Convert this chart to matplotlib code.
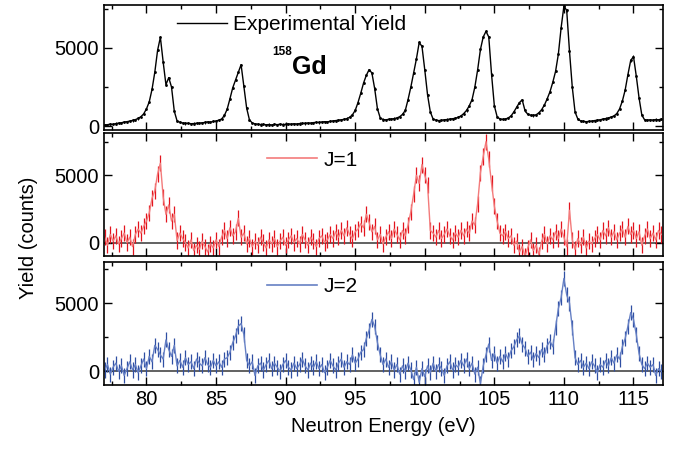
import numpy as np
import matplotlib
matplotlib.use("Agg")
import matplotlib.pyplot as plt
from matplotlib.lines import Line2D
from matplotlib.ticker import MultipleLocator

plt.rcParams['font.family'] = ['Liberation Sans', 'DejaVu Sans']

# neutron energy grid (eV), 0.2 eV channels
energy = np.arange(77.0, 117.0 + 0.1, 0.2)

# measured capture yield (counts)
exp_yield = [
    60, 90, 120, 110, 160, 190, 210, 260, 280, 320,            # 77.0
    360, 410, 490, 600, 780, 1100, 1550, 2350, 3450, 4850,     # 79.0
    5680, 4100, 2650, 3100, 2500, 950, 330, 240, 200, 170,     # 81.0
    180, 150, 160, 180, 190, 210, 230, 270, 250, 300,          # 83.0
    320, 380, 450, 680, 1080, 1750, 2450, 2950, 3450, 3930,    # 85.0
    2550, 1150, 400, 200, 140, 120, 100, 110, 80, 100,         # 87.0
    70, 110, 90, 120, 100, 110, 140, 120, 150, 130,            # 89.0
    160, 180, 170, 200, 190, 220, 240, 230, 260, 280,          # 91.0
    270, 300, 330, 350, 380, 400, 430, 480, 560, 720,          # 93.0
    1000, 1500, 2100, 2750, 3250, 3610, 3400, 2400, 1100, 520, # 95.0
    420, 400, 430, 450, 480, 520, 600, 750, 1000, 1700,        # 97.0
    2500, 3400, 4300, 5350, 5100, 3600, 2000, 900, 450, 380,   # 99.0
    350, 370, 400, 420, 450, 470, 500, 560, 650, 800,          # 101.0
    1000, 1300, 1700, 2500, 3600, 4900, 5700, 6060, 5700, 3300,  # 103.0
    1300, 600, 450, 430, 450, 520, 650, 900, 1200, 1500,       # 105.0
    1680, 1000, 750, 700, 680, 720, 850, 1050, 1350, 1750,     # 107.0
    2200, 2800, 3500, 4600, 6300, 7680, 7400, 4800, 2500, 900, # 109.0
    450, 330, 300, 280, 300, 320, 350, 380, 400, 450,          # 111.0
    480, 520, 580, 650, 800, 1100, 1600, 2300, 3300, 4200,     # 113.0
    4450, 3200, 1800, 700, 400, 380, 400, 380, 420, 400,       # 115.0
    450,                                                       # 117.0
]

# J=1 component (counts)
j1_yield = [
    400, -200, 600, 100, 500, -100, 300, 700, 0, 400,          # 77.0
    -300, 600, 1000, 700, 1200, 1600, 2200, 3300, 3850, 5100,  # 79.0
    5900, 3400, 2100, 2800, 1600, 2100, 150, 700, 300, 0,      # 81.0
    -400, 200, -600, -200, -500, 100, -300, -700, -100, -400,  # 83.0
    200, -300, 400, 900, 300, 1100, 500, 800, 1800, 400,       # 85.0
    700, -100, 300, -300, 100, -200, 400, 0, -400, 200,        # 87.0
    -100, 300, -300, 100, 400, -200, 200, 500, 0, 300,         # 89.0
    -100, 600, 200, -200, 400, 100, -300, 300, 500, 0,         # 91.0
    200, 600, 300, 800, 400, 900, 500, 1100, 600, 300,         # 93.0
    800, 1000, 1400, 1100, 2100, 1500, 800, 1200, 200, 600,    # 95.0
    -100, 400, 800, 300, 1000, 600, 200, 900, 500, 1300,       # 97.0
    2300, 3600, 5000, 4400, 5800, 5000, 4300, 900, 700, 400,   # 99.0
    900, 300, 600, 1000, 500, 200, 700, 400, 900, 500,         # 101.0
    1000, 700, 1600, 1300, 2900, 5200, 6400, 7500, 6200, 4400, # 103.0
    2700, 1600, 700, 500, 800, 300, 500, -200, 100, -700,      # 105.0
    -300, -1000, -400, 200, -600, -200, -900, 100, 600, -100,  # 107.0
    500, 200, 800, 300, 1000, 400, -300, 2400, 200, -500,      # 109.0
    300, -200, 400, -400, 100, -100, 300, 600, 200, 900,       # 111.0
    500, 1100, 400, 800, 200, 700, 1000, 400, 1200, 600,       # 113.0
    900, 300, 800, -200, 500, 1000, 300, 700, 200, 900,        # 115.0
    600,                                                       # 117.0
]

# J=2 component (counts)
j2_yield = [
    100, 500, -200, 300, 600, 0, 400, -300, 200, 700,          # 77.0
    100, 500, -100, 400, 900, 200, 1100, 700, 1900, 1600,      # 79.0
    1200, 900, 2300, 1600, 1100, 1900, 400, 800, 300, 1000,    # 81.0
    500, 700, 200, 900, 600, 400, 1000, 500, 300, 800,         # 83.0
    400, 700, 300, 900, 1000, 1400, 2100, 2600, 3300, 3500,    # 85.0
    2700, 800, 400, 700, -300, 400, 600, 100, 500, 800,        # 87.0
    200, 600, 300, 0, 500, 800, 300, 100, 600, 200,            # 89.0
    500, 900, 400, 100, 600, 300, 700, 200, 500, -100,         # 91.0
    300, 800, 400, 100, 600, 900, 300, 700, 500, 1200,         # 93.0
    600, 900, 1400, 1600, 2400, 3000, 3800, 3300, 2100, 1200,  # 95.0
    500, 900, 300, 700, 100, 500, -200, 400, 0, 600,           # 97.0
    100, -600, 300, -800, 200, -400, 400, -100, 600, 0,        # 99.0
    500, 200, -300, 400, 700, 100, 500, 300, 800, 400,         # 101.0
    900, 200, 600, -200, 300, -900, 400, 1200, 2000, 800,      # 103.0
    1300, 600, 1100, 700, 1300, 900, 1500, 1800, 2300, 2600,   # 105.0
    2000, 1700, 1100, 1400, 900, 1300, 1000, 1600, 1200, 1900, # 107.0
    2200, 1800, 3200, 4600, 5400, 6800, 5600, 5000, 3200, 1000,  # 109.0
    500, 800, 300, 600, 200, 700, 400, -100, 500, 300,         # 111.0
    800, 400, 1000, 600, 1200, 900, 1800, 2400, 3300, 4300,    # 113.0
    3800, 2700, 1300, 500, 200, 600, 300, 500, -300, 200,      # 115.0
    0,                                                         # 117.0
]

exp_err = 70
j1_err = 600
j2_err = 550

fig = plt.figure(figsize=(6.83, 4.51), dpi=100)
ax_top = fig.add_axes([0.1523, 0.7118, 0.818, 0.2772])
ax_mid = fig.add_axes([0.1523, 0.4324, 0.818, 0.2727])
ax_bot = fig.add_axes([0.1523, 0.1463, 0.818, 0.2727])

ax_top.errorbar(energy, exp_yield, yerr=exp_err, color='black', lw=1.0,
                elinewidth=0.7, marker='s', ms=0.9, capsize=0)
ax_mid.errorbar(energy, j1_yield, yerr=j1_err, color='#f37b7b', lw=1.0,
                ecolor='#e3141e', elinewidth=0.9, capsize=0)
ax_bot.errorbar(energy, j2_yield, yerr=j2_err, color='#6680c4', lw=1.0,
                ecolor='#2f4fa3', elinewidth=0.9, capsize=0)

for ax in (ax_mid, ax_bot):
    ax.axhline(0, color='#555555', lw=1.3, zorder=0)

ax_top.set_ylim(-250, 7750)
ax_mid.set_ylim(-1000, 8150)
ax_bot.set_ylim(-1000, 8000)

for ax in (ax_top, ax_mid, ax_bot):
    ax.set_xlim(76.95, 117.1)
    ax.xaxis.set_major_locator(MultipleLocator(5))
    ax.xaxis.set_minor_locator(MultipleLocator(2.5))
    ax.yaxis.set_major_locator(MultipleLocator(5000))
    ax.yaxis.set_minor_locator(MultipleLocator(2500))
    ax.tick_params(which='both', direction='in', top=True, right=True,
                   labelsize=14.5, width=1.0)
    ax.tick_params(which='major', length=6)
    ax.tick_params(which='minor', length=3)
    for sp in ax.spines.values():
        sp.set_linewidth(1.2)

ax_top.tick_params(labelbottom=False)
ax_mid.tick_params(labelbottom=False)

legend_kw = dict(frameon=False, loc='center left', fontsize=15,
                 handlelength=2.4, handletextpad=0.3, borderpad=0,
                 borderaxespad=0)
ax_top.legend([Line2D([], [], color='black', lw=1.0)], ['Experimental Yield'],
              bbox_to_anchor=(0.131, 0.84), **legend_kw)
ax_mid.legend([Line2D([], [], color='#f37b7b', lw=1.2)], ['J=1'],
              bbox_to_anchor=(0.292, 0.78), **legend_kw)
ax_bot.legend([Line2D([], [], color='#6680c4', lw=1.2)], ['J=2'],
              bbox_to_anchor=(0.292, 0.797), **legend_kw)

# isotope label: superscript mass number, then element symbol
ax_top.text(0.302, 0.6, '158', transform=ax_top.transAxes, fontsize=8.5,
            fontweight='bold')
ax_top.text(0.336, 0.45, 'Gd', transform=ax_top.transAxes, fontsize=18,
            fontweight='bold')

ax_bot.set_xlabel('Neutron Energy (eV)', fontsize=14.5, labelpad=6)
fig.text(28 / 683, 1 - 238 / 451, 'Yield (counts)', rotation=90,
         fontsize=14.5, ha='center', va='center')

fig.savefig('out.png', dpi=100)
